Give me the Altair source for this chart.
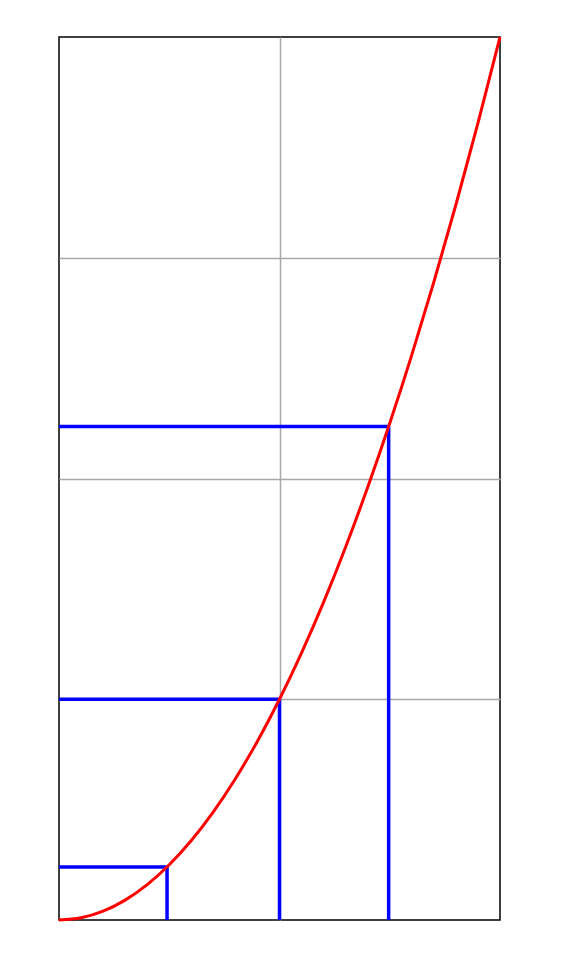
import altair as alt
import pandas as pd

curve_x = [0.0, 0.1, 0.2, 0.3, 0.4, 0.5, 0.6, 0.7, 0.8, 0.9, 1.0,
           1.1, 1.2, 1.3, 1.4, 1.5, 1.6, 1.7, 1.8, 1.9, 2.0]
curve_y = [0.0, 0.01, 0.04, 0.09, 0.16, 0.25, 0.36, 0.49, 0.64, 0.81, 1.0,
           1.21, 1.44, 1.69, 1.96, 2.25, 2.56, 2.89, 3.24, 3.61, 4.0]

marker_x = [0.49, 1.0, 1.495]
marker_y = [0.24, 1.0, 2.235]

curve = pd.DataFrame({"x": curve_x, "y": curve_y})
marks = pd.DataFrame({"x": marker_x, "y": marker_y, "zero": [0.0] * 3})

xs = alt.Scale(domain=[0, 2], nice=False, zero=False)
ys = alt.Scale(domain=[0, 4], nice=False, zero=False)

xaxis = alt.Axis(values=[1], labels=False, ticks=False, domain=False, grid=True,
                 gridColor="#a8a8a8", gridWidth=1.5, gridOpacity=1, title=None)
yaxis = alt.Axis(values=[1, 2, 3], labels=False, ticks=False, domain=False, grid=True,
                 gridColor="#a8a8a8", gridWidth=1.5, gridOpacity=1, title=None)

horiz = alt.Chart(marks).mark_rule(color="#0000ff", strokeWidth=3.5).encode(
    x=alt.X("zero:Q", scale=xs, axis=xaxis),
    x2="x:Q",
    y=alt.Y("y:Q", scale=ys, axis=yaxis),
)
vert = alt.Chart(marks).mark_rule(color="#0000ff", strokeWidth=3.5).encode(
    x=alt.X("x:Q", scale=xs),
    y=alt.Y("zero:Q", scale=ys),
    y2="y:Q",
)
line = alt.Chart(curve).mark_line(color="#ff0000", strokeWidth=3, interpolate="monotone").encode(
    x=alt.X("x:Q", scale=xs),
    y=alt.Y("y:Q", scale=ys),
)

chart = alt.layer(horiz, vert, line).properties(
    width=441, height=883,
    padding={"left": 45, "top": 23, "right": 5, "bottom": 5},
).configure_view(stroke="#000000", strokeWidth=1.5)

chart.save("out.html", embed_options={"renderer": "svg", "actions": False})
